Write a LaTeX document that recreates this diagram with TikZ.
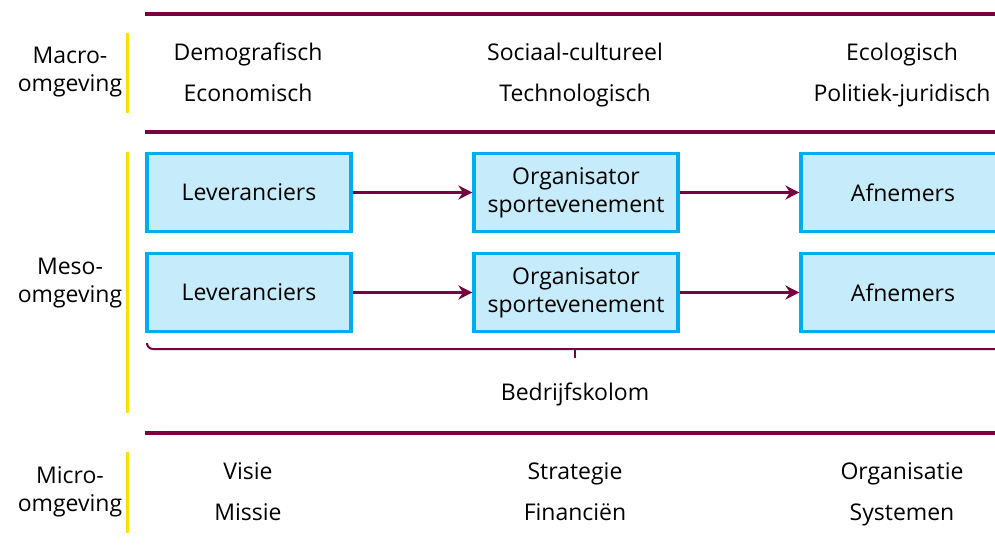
\documentclass[tikz,border=0pt]{standalone}
\usepackage{fontspec}
\setmainfont{Open Sans}
\usetikzlibrary{positioning,arrows.meta}
\definecolor{bordeaux}{RGB}{122,0,64}
\definecolor{kader}{RGB}{0,174,239}
\definecolor{vulling}{RGB}{198,235,250}
\definecolor{geel}{RGB}{255,222,0}
\begin{document}
\begin{tikzpicture}[x=0.5pt,y=-0.5pt,
        font=\fontsize{11.5}{14}\selectfont,
        scheiding/.style={draw=bordeaux,line width=2pt},
        balk/.style={draw=geel,line width=1.5pt},
        niveau/.style={align=center},
        term/.style={text height=8.5pt,text depth=2.5pt,inner sep=0pt},
        blok/.style={draw=kader,fill=vulling,line width=1.6pt,minimum width=102pt,minimum height=39pt,align=center,inner sep=2pt},
        pijl/.style={draw=bordeaux,line width=1.6pt,-{Stealth[length=7pt,width=7pt]}}]
        \clip (0,0) rectangle (995,547);
        % lijnen tussen de lagen
        \draw[scheiding] (145,14) -- (995,14);
        \draw[scheiding] (145,132) -- (995,132);
        \draw[scheiding] (145,433) -- (995,433);
        % gele balken
        \draw[balk] (127,33) -- (127,113);
        \draw[balk] (127,152) -- (127,413);
        \draw[balk] (127,452) -- (127,533);
        \node[niveau] (macro) at (70,72) {Macro-\\omgeving};
        \node[niveau] (meso) at (70,283) {Meso-\\omgeving};
        \node[niveau] (micro) at (70,492) {Micro-\\omgeving};
        % macro
        \node[term] (demo) at (248,54) {Demografisch};
        \node[term] (econ) at (248,95) {Economisch};
        \node[term] (soc) at (575,54) {Sociaal-cultureel};
        \node[term] (tech) at (575,95) {Technologisch};
        \node[term] (eco) at (902,54) {Ecologisch};
        \node[term] (pol) at (902,95) {Politiek-juridisch};
        % meso
        \node[blok] (lev1) at (249,192.5) {Leveranciers};
        \node[blok] (org1) at (576,192.5) {Organisator\\sportevenement};
        \node[blok] (afn1) at (903,192.5) {Afnemers};
        \node[blok] (lev2) at (249,292.5) {Leveranciers};
        \node[blok] (org2) at (576,292.5) {Organisator\\sportevenement};
        \node[blok] (afn2) at (903,292.5) {Afnemers};
        \draw[pijl] (lev1) -- (org1);
        \draw[pijl] (org1) -- (afn1);
        \draw[pijl] (lev2) -- (org2);
        \draw[pijl] (org2) -- (afn2);
        \draw[draw=bordeaux,line width=1pt] (147,343) to[out=-90,in=180] (153,349) -- (995,349);
        \draw[draw=bordeaux,line width=1.4pt] (575,349) -- (575,358);
        \node[term] (kolom) at (575,394) {Bedrijfskolom};
        % micro
        \node[term] (visie) at (248,473) {Visie};
        \node[term] (missie) at (248,514) {Missie};
        \node[term] (strat) at (575,473) {Strategie};
        \node[term] (fin) at (575,514) {Financiën};
        \node[term] (orga) at (902,473) {Organisatie};
        \node[term] (sys) at (902,514) {Systemen};
    \end{tikzpicture}
\end{document}
